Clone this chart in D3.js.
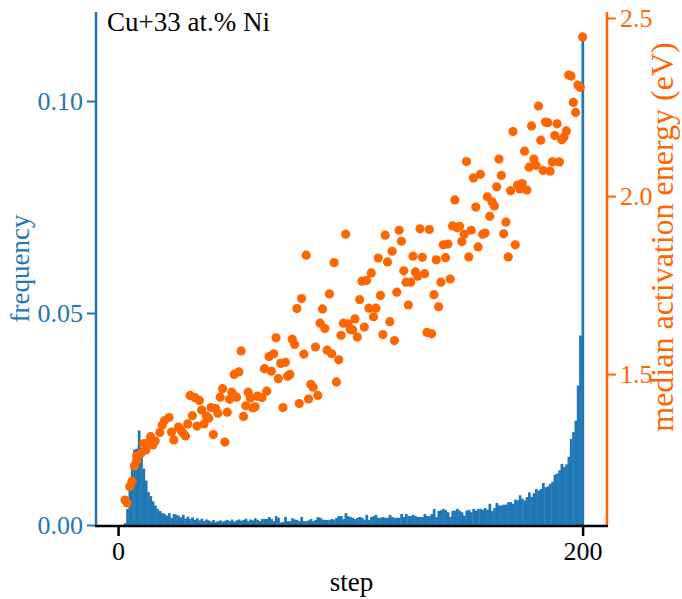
<!DOCTYPE html>
<html>
<head>
<meta charset="utf-8">
<script src="https://cdn.jsdelivr.net/npm/d3@7"></script>
<style>
  body { margin: 0; background: #fff; }
  text { font-family: "Liberation Serif", "DejaVu Serif", serif; }
</style>
</head>
<body>
<svg width="682" height="599"></svg>
<script>
// histogram: frequency per step (steps 1..200)
const histFreq = [
  0, 0, 0.0004, 0.0038, 0.0081, 0.0135, 0.0178, 0.018, 0.0223, 0.0182,
  0.0133, 0.0105, 0.0078, 0.0068, 0.0056, 0.0046, 0.0038, 0.0033, 0.0028, 0.0026,
  0.0022, 0.0028, 0.0017, 0.0026, 0.0024, 0.0022, 0.0018, 0.0024, 0.0015, 0.002,
  0.0014, 0.0018, 0.0012, 0.0016, 0.0011, 0.0015, 0.0009, 0.0013, 0.0011, 0.0008,
  0.0012, 0.0007, 0.0009, 0.0011, 0.0008, 0.001, 0.0012, 0.0009, 0.0013, 0.0008,
  0.0011, 0.0013, 0.001, 0.0012, 0.0015, 0.0009, 0.0013, 0.0011, 0.0016, 0.0012,
  0.0009, 0.0014, 0.0014, 0.0014, 0.0019, 0.0014, 0.0009, 0.0021, 0.0017, 0.0006,
  0.0007, 0.0019, 0.0009, 0.0009, 0.0016, 0.0013, 0.0012, 0.0009, 0.0019, 0.0009,
  0.0009, 0.0011, 0.0014, 0.0009, 0.0012, 0.0019, 0.0017, 0.0013, 0.0012, 0.0012,
  0.0012, 0.0014, 0.0013, 0.0017, 0.0021, 0.0021, 0.0014, 0.0028, 0.0021, 0.0019,
  0.0017, 0.0014, 0.0017, 0.0019, 0.0017, 0.0013, 0.0024, 0.0012, 0.0019, 0.0021,
  0.0024, 0.0017, 0.0017, 0.0019, 0.0017, 0.0017, 0.0024, 0.0019, 0.0017, 0.0017,
  0.0017, 0.0026, 0.0019, 0.0026, 0.0021, 0.0021, 0.0024, 0.0021, 0.0019, 0.0019,
  0.0019, 0.0026, 0.0021, 0.0021, 0.0026, 0.0038, 0.0019, 0.0033, 0.0035, 0.0038,
  0.0035, 0.003, 0.0019, 0.0033, 0.0034, 0.0038, 0.0034, 0.003, 0.0022, 0.0034,
  0.0036, 0.003, 0.0038, 0.0034, 0.0038, 0.0038, 0.0036, 0.004, 0.0036, 0.005,
  0.0033, 0.004, 0.0052, 0.0046, 0.0046, 0.0048, 0.0048, 0.0054, 0.0054, 0.005,
  0.006, 0.0058, 0.007, 0.0062, 0.0058, 0.0066, 0.0077, 0.0066, 0.0075, 0.0085,
  0.0081, 0.0085, 0.0099, 0.0089, 0.0091, 0.0097, 0.0102, 0.0119, 0.0121, 0.0129,
  0.0144, 0.0137, 0.0143, 0.0161, 0.0203, 0.0219, 0.0246, 0.0329, 0.0447, 0.1145
];

// scatter: median activation energy (eV) per step
const energySteps = [
  3, 4, 5, 6, 7, 8, 8, 10, 11, 12, 13, 14, 15, 16, 18, 19, 20, 22, 23, 24,
  26, 27, 28, 29, 30, 31, 32, 33, 34, 35, 36, 37, 38, 39, 40, 41, 42, 43, 44, 45,
  46, 47, 48, 49, 50, 51, 52, 53, 54, 55, 56, 57, 58, 59, 60, 62, 63, 64, 65, 66,
  67, 68, 69, 70, 71, 72, 73, 74, 75, 76, 77, 78, 79, 80, 81, 82, 83, 84, 85, 86,
  87, 88, 89, 90, 91, 92, 93, 94, 95, 96, 97, 98, 99, 100, 101, 102, 103, 104, 105, 106,
  107, 108, 109, 110, 111, 112, 113, 114, 115, 116, 117, 118, 119, 120, 121, 122, 123, 124, 125, 126,
  127, 128, 129, 130, 131, 132, 133, 134, 135, 136, 137, 138, 139, 140, 141, 142, 143, 144, 145, 146,
  147, 148, 149, 150, 151, 152, 153, 154, 155, 156, 157, 158, 159, 160, 161, 162, 163, 164, 165, 166,
  167, 168, 169, 170, 171, 172, 173, 174, 175, 176, 177, 178, 179, 180, 181, 182, 183, 184, 185, 186,
  187, 188, 189, 190, 191, 192, 193, 194, 195, 196, 197, 198, 199, 200
];
const energyValues = [
  1.146, 1.138, 1.184, 1.199, 1.242, 1.258, 1.270, 1.278, 1.305, 1.287, 1.306, 1.324, 1.301, 1.312, 1.336, 1.357, 1.369, 1.378, 1.337, 1.315,
  1.351, 1.343, 1.334, 1.326, 1.360, 1.440, 1.383, 1.434, 1.354, 1.426, 1.399, 1.360, 1.382, 1.376, 1.406, 1.330, 1.403, 1.390, 1.435, 1.459,
  1.309, 1.393, 1.429, 1.449, 1.499, 1.435, 1.506, 1.565, 1.381, 1.411, 1.449, 1.433, 1.405, 1.408, 1.438, 1.434, 1.515, 1.452, 1.549, 1.508,
  1.557, 1.602, 1.487, 1.530, 1.406, 1.533, 1.494, 1.499, 1.598, 1.583, 1.684, 1.417, 1.712, 1.556, 1.834, 1.430, 1.471, 1.463, 1.576, 1.440,
  1.643, 1.683, 1.628, 1.567, 1.725, 1.557, 1.813, 1.478, 1.540, 1.609, 1.643, 1.893, 1.641, 1.625, 1.624, 1.655, 1.604, 1.709, 1.761, 1.632,
  1.763, 1.685, 1.784, 1.661, 1.685, 1.826, 1.721, 1.611, 1.890, 1.815, 1.647, 1.845, 1.594, 1.730, 1.904, 1.873, 1.790, 1.758, 1.694, 1.758,
  1.831, 1.787, 1.775, 1.908, 1.828, 1.782, 1.617, 1.906, 1.613, 1.723, 1.821, 1.689, 1.758, 1.863, 1.827, 1.865, 1.767, 1.916, 1.989, 1.911,
  1.915, 1.872, 1.893, 2.097, 1.829, 1.904, 2.051, 1.969, 1.857, 2.061, 1.893, 1.896, 1.998, 1.943, 1.984, 1.972, 2.026, 2.104, 2.058, 1.894,
  1.927, 1.829, 2.015, 2.181, 1.863, 2.031, 2.020, 2.035, 2.126, 2.017, 2.081, 2.197, 2.104, 2.086, 2.253, 2.157, 2.072, 2.208, 2.206, 2.070,
  2.096, 2.170, 2.203, 2.096, 2.158, 2.166, 2.183, 2.340, 2.337, 2.263, 2.235, 2.312, 2.305, 2.447
];

const freqTicks = [0, 0.05, 0.10];
const energyTicks = [1.5, 2.0, 2.5];
const stepTicks = [0, 200];

const blue = '#1f77b4';
const orange = '#ff6600';

const plotLeft = 96, plotRight = 607, plotTop = 12, plotBottom = 525;

const svg = d3.select('svg');

const x = d3.scaleLinear().domain([-9.5, 210.5]).range([plotLeft, plotRight]);
const yL = d3.scaleLinear().domain([0, 0.121]).range([plotBottom, plotTop]);
const yR = d3.scaleLinear().domain([1.076, 2.517]).range([plotBottom, plotTop]);

const bars = histFreq.map((f, i) => ({ step: i + 1, f: f }));

svg.append('g')
    .selectAll('rect')
    .data(bars)
    .enter()
    .append('rect')
    .attr('x', d => x(d.step - 0.5))
    .attr('width', x(1) - x(0) + 0.4)
    .attr('y', d => yL(d.f))
    .attr('height', d => yL(0) - yL(d.f))
    .attr('fill', blue);

svg.append('g')
    .selectAll('circle')
    .data(energySteps)
    .enter()
    .append('circle')
    .attr('cx', d => x(d))
    .attr('cy', (d, i) => yR(energyValues[i]))
    .attr('r', 4.6)
    .attr('fill', orange);

// axes
const fmt2 = d3.format('.2f');
const fmt1 = d3.format('.1f');

const gL = svg.append('g')
    .attr('transform', 'translate(' + plotLeft + ',0)')
    .call(d3.axisLeft(yL).tickValues(freqTicks).tickFormat(fmt2).tickSize(9).tickPadding(4));
gL.selectAll('line').attr('stroke', blue).attr('stroke-width', 2);
gL.selectAll('text').attr('fill', blue).style('font-size', '26px');

const gR = svg.append('g')
    .attr('transform', 'translate(' + plotRight + ',0)')
    .call(d3.axisRight(yR).tickValues(energyTicks).tickFormat(fmt1).tickSize(9).tickPadding(4));
gR.selectAll('line').attr('stroke', orange).attr('stroke-width', 2);
gR.selectAll('text').attr('fill', orange).style('font-size', '26px');

const gX = svg.append('g')
    .attr('transform', 'translate(0,' + plotBottom + ')')
    .call(d3.axisBottom(x).tickValues(stepTicks).tickFormat(d3.format('d')).tickSize(11).tickPadding(6));
gX.selectAll('line').attr('stroke', '#000').attr('stroke-width', 2.5);
gX.selectAll('text').attr('fill', '#000').style('font-size', '26px');

svg.selectAll('.domain').remove();

// spines
svg.append('line').attr('x1', plotLeft).attr('x2', plotLeft).attr('y1', plotTop).attr('y2', plotBottom)
    .attr('stroke', blue).attr('stroke-width', 2.5);
svg.append('line').attr('x1', plotRight).attr('x2', plotRight).attr('y1', plotTop).attr('y2', plotBottom)
    .attr('stroke', orange).attr('stroke-width', 2.5);
svg.append('line').attr('x1', plotLeft - 1).attr('x2', plotRight + 1).attr('y1', plotBottom + 1).attr('y2', plotBottom + 1)
    .attr('stroke', '#000').attr('stroke-width', 2.5);

// labels
svg.append('text')
    .attr('x', 107).attr('y', 31)
    .style('font-size', '27px')
    .text('Cu+33 at.% Ni');

svg.append('text')
    .attr('x', (plotLeft + plotRight) / 2).attr('y', 591)
    .attr('text-anchor', 'middle')
    .style('font-size', '27px')
    .text('step');

svg.append('text')
    .attr('transform', 'translate(29,' + (plotTop + plotBottom) / 2 + ') rotate(-90)')
    .attr('text-anchor', 'middle')
    .attr('fill', blue)
    .style('font-size', '27px')
    .text('frequency');

svg.append('text')
    .attr('transform', 'translate(673,237) rotate(-90)')
    .attr('text-anchor', 'middle')
    .attr('fill', orange)
    .style('font-size', '32px')
    .text('median activation energy (eV)');
</script>
</body>
</html>
